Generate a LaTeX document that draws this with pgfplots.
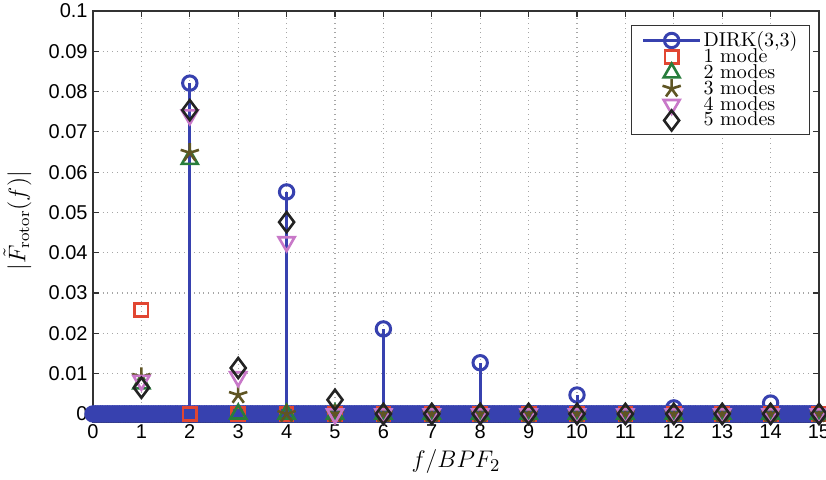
\documentclass[border=0pt]{standalone}
\usepackage{fontspec}
\setsansfont{Liberation Sans}
\usepackage{pgfplots}
\pgfplotsset{compat=1.18}
\definecolor{dirk}{RGB}{55,65,175}
\definecolor{mA}{RGB}{225,70,50}
\definecolor{mB}{RGB}{40,125,60}
\definecolor{mC}{RGB}{95,85,35}
\definecolor{mD}{RGB}{200,120,200}
\definecolor{mE}{RGB}{35,35,35}
\begin{document}
\begin{tikzpicture}
\begin{axis}[
  scale only axis, width=363pt, height=205.5pt,
  xmin=0, xmax=15, ymin=-0.002, ymax=0.1,
  clip=false,
  xtick={0,1,2,3,4,5,6,7,8,9,10,11,12,13,14,15},
  ytick={0,0.01,0.02,0.03,0.04,0.05,0.06,0.07,0.08,0.09,0.1},
  yticklabel style={/pgf/number format/fixed, /pgf/number format/precision=2, inner sep=2.5pt},
  xticklabel style={inner sep=1pt},
  tick label style={font=\sffamily\fontsize{10}{12}\selectfont},
  /pgf/number format/assume math mode=true,
  grid=major, major grid style={dotted, gray!70, line width=0.6pt},
  tick align=inside, tick pos=both, major tick length=3pt,
  axis line style={line width=0.6pt, black!80},
  every tick/.style={black!80, line width=0.6pt},
  xlabel={$f/BPF_2$},
  ylabel={$|\tilde{F}_{\mathrm{rotor}}(f)|$},
  xlabel style={at={(axis description cs:0.5,-0.097)}, anchor=center, font=\fontsize{13}{15}\selectfont},
  ylabel style={at={(axis description cs:-0.104,0.49)}, anchor=center, font=\fontsize{12}{14}\selectfont},
  legend style={at={(1,1)}, anchor=north east, xshift=-4.5pt, yshift=-7pt,
    draw=black!80, line width=0.5pt, font=\fontsize{10}{10}\selectfont,
    row sep=-2.5pt, inner xsep=5pt, inner ysep=2pt, nodes={inner sep=1pt}},
  legend cell align=left,
]
\addplot[dirk, line width=1.5pt, ycomb, mark=o, mark size=3.6pt,
  mark options={line width=1.5pt},
  legend image code/.code={\draw[sharp plot, mark repeat=2,mark phase=2] plot coordinates {(0cm,0cm)(0.5cm,0cm)(1cm,0cm)};}]
coordinates {
(0,0)(0.05,0)(0.1,0)(0.15,0)(0.2,0)(0.25,0)(0.3,0)(0.35,0)(0.4,0)(0.45,0)(0.5,0)(0.55,0)(0.6,0)(0.65,0)(0.7,0)(0.75,0)(0.8,0)(0.85,0)(0.9,0)(0.95,0)
(1,0)(1.05,0)(1.1,0)(1.15,0)(1.2,0)(1.25,0)(1.3,0)(1.35,0)(1.4,0)(1.45,0)(1.5,0)(1.55,0)(1.6,0)(1.65,0)(1.7,0)(1.75,0)(1.8,0)(1.85,0)(1.9,0)(1.95,0)
(2,0.0821)(2.05,0)(2.1,0)(2.15,0)(2.2,0)(2.25,0)(2.3,0)(2.35,0)(2.4,0)(2.45,0)(2.5,0)(2.55,0)(2.6,0)(2.65,0)(2.7,0)(2.75,0)(2.8,0)(2.85,0)(2.9,0)(2.95,0)
(3,0)(3.05,0)(3.1,0)(3.15,0)(3.2,0)(3.25,0)(3.3,0)(3.35,0)(3.4,0)(3.45,0)(3.5,0)(3.55,0)(3.6,0)(3.65,0)(3.7,0)(3.75,0)(3.8,0)(3.85,0)(3.9,0)(3.95,0)
(4,0.0551)(4.05,0)(4.1,0)(4.15,0)(4.2,0)(4.25,0)(4.3,0)(4.35,0)(4.4,0)(4.45,0)(4.5,0)(4.55,0)(4.6,0)(4.65,0)(4.7,0)(4.75,0)(4.8,0)(4.85,0)(4.9,0)(4.95,0)
(5,0)(5.05,0)(5.1,0)(5.15,0)(5.2,0)(5.25,0)(5.3,0)(5.35,0)(5.4,0)(5.45,0)(5.5,0)(5.55,0)(5.6,0)(5.65,0)(5.7,0)(5.75,0)(5.8,0)(5.85,0)(5.9,0)(5.95,0)
(6,0.0211)(6.05,0)(6.1,0)(6.15,0)(6.2,0)(6.25,0)(6.3,0)(6.35,0)(6.4,0)(6.45,0)(6.5,0)(6.55,0)(6.6,0)(6.65,0)(6.7,0)(6.75,0)(6.8,0)(6.85,0)(6.9,0)(6.95,0)
(7,0)(7.05,0)(7.1,0)(7.15,0)(7.2,0)(7.25,0)(7.3,0)(7.35,0)(7.4,0)(7.45,0)(7.5,0)(7.55,0)(7.6,0)(7.65,0)(7.7,0)(7.75,0)(7.8,0)(7.85,0)(7.9,0)(7.95,0)
(8,0.0127)(8.05,0)(8.1,0)(8.15,0)(8.2,0)(8.25,0)(8.3,0)(8.35,0)(8.4,0)(8.45,0)(8.5,0)(8.55,0)(8.6,0)(8.65,0)(8.7,0)(8.75,0)(8.8,0)(8.85,0)(8.9,0)(8.95,0)
(9,0)(9.05,0)(9.1,0)(9.15,0)(9.2,0)(9.25,0)(9.3,0)(9.35,0)(9.4,0)(9.45,0)(9.5,0)(9.55,0)(9.6,0)(9.65,0)(9.7,0)(9.75,0)(9.8,0)(9.85,0)(9.9,0)(9.95,0)
(10,0.0047)(10.05,0)(10.1,0)(10.15,0)(10.2,0)(10.25,0)(10.3,0)(10.35,0)(10.4,0)(10.45,0)(10.5,0)(10.55,0)(10.6,0)(10.65,0)(10.7,0)(10.75,0)(10.8,0)(10.85,0)(10.9,0)(10.95,0)
(11,0)(11.05,0)(11.1,0)(11.15,0)(11.2,0)(11.25,0)(11.3,0)(11.35,0)(11.4,0)(11.45,0)(11.5,0)(11.55,0)(11.6,0)(11.65,0)(11.7,0)(11.75,0)(11.8,0)(11.85,0)(11.9,0)(11.95,0)
(12,0.0015)(12.05,0)(12.1,0)(12.15,0)(12.2,0)(12.25,0)(12.3,0)(12.35,0)(12.4,0)(12.45,0)(12.5,0)(12.55,0)(12.6,0)(12.65,0)(12.7,0)(12.75,0)(12.8,0)(12.85,0)(12.9,0)(12.95,0)
(13,0)(13.05,0)(13.1,0)(13.15,0)(13.2,0)(13.25,0)(13.3,0)(13.35,0)(13.4,0)(13.45,0)(13.5,0)(13.55,0)(13.6,0)(13.65,0)(13.7,0)(13.75,0)(13.8,0)(13.85,0)(13.9,0)(13.95,0)
(14,0.0027)(14.05,0)(14.1,0)(14.15,0)(14.2,0)(14.25,0)(14.3,0)(14.35,0)(14.4,0)(14.45,0)(14.5,0)(14.55,0)(14.6,0)(14.65,0)(14.7,0)(14.75,0)(14.8,0)(14.85,0)(14.9,0)(14.95,0)
(15,0)
};
\addlegendentry{DIRK(3,3)}
\addplot[mA, only marks, mark=square, mark size=3.3pt, mark options={line width=1.3pt},
  legend image code/.code={\draw plot coordinates {(0.5cm,0cm)};}]
coordinates {(1,0.0258)(2,0)(3,0)(4,0)(5,0)(6,0)(7,0)(8,0)(9,0)(10,0)(11,0)(12,0)(13,0)(14,0)(15,0)};
\addlegendentry{1 mode}
\addplot[mB, only marks, mark=triangle, mark size=4.6pt, mark options={line width=1.3pt},
  legend image code/.code={\draw plot coordinates {(0.5cm,0cm)};}]
coordinates {(1,0.0075)(2,0.0632)(3,0)(4,0)(5,0)(6,0)(7,0)(8,0)(9,0)(10,0)(11,0)(12,0)(13,0)(14,0)(15,0)};
\addlegendentry{2 modes}
\addplot[mC, only marks, mark=star, mark size=4.8pt, mark options={line width=1.3pt},
  legend image code/.code={\draw plot coordinates {(0.5cm,0cm)};}]
coordinates {(1,0.0092)(2,0.0648)(3,0.0047)(4,0)(5,0)(6,0)(7,0)(8,0)(9,0)(10,0)(11,0)(12,0)(13,0)(14,0)(15,0)};
\addlegendentry{3 modes}
\addplot[mD, only marks, mark=triangle, mark size=4.6pt, mark options={line width=1.3pt, rotate=180},
  legend image code/.code={\draw plot coordinates {(0.5cm,0cm)};}]
coordinates {(1,0.0083)(2,0.0742)(3,0.0092)(4,0.0427)(5,0)(6,0)(7,0)(8,0)(9,0)(10,0)(11,0)(12,0)(13,0)(14,0)(15,0)};
\addlegendentry{4 modes}
\addplot[mE, only marks, mark=diamond, mark size=5pt, mark options={line width=1.3pt},
  legend image code/.code={\draw plot coordinates {(0.5cm,0cm)};}]
coordinates {(1,0.0065)(2,0.0754)(3,0.0114)(4,0.0476)(5,0.0035)(6,0)(7,0)(8,0)(9,0)(10,0)(11,0)(12,0)(13,0)(14,0)(15,0)};
\addlegendentry{5 modes}
\coordinate (sw) at (rel axis cs:0,0);
\coordinate (ne) at (rel axis cs:1,1);
\end{axis}
\pgfresetboundingbox
\path ([xshift=-46.5pt,yshift=-29pt]sw) rectangle ([xshift=3.5pt,yshift=5.5pt]ne);
\end{tikzpicture}
\end{document}
